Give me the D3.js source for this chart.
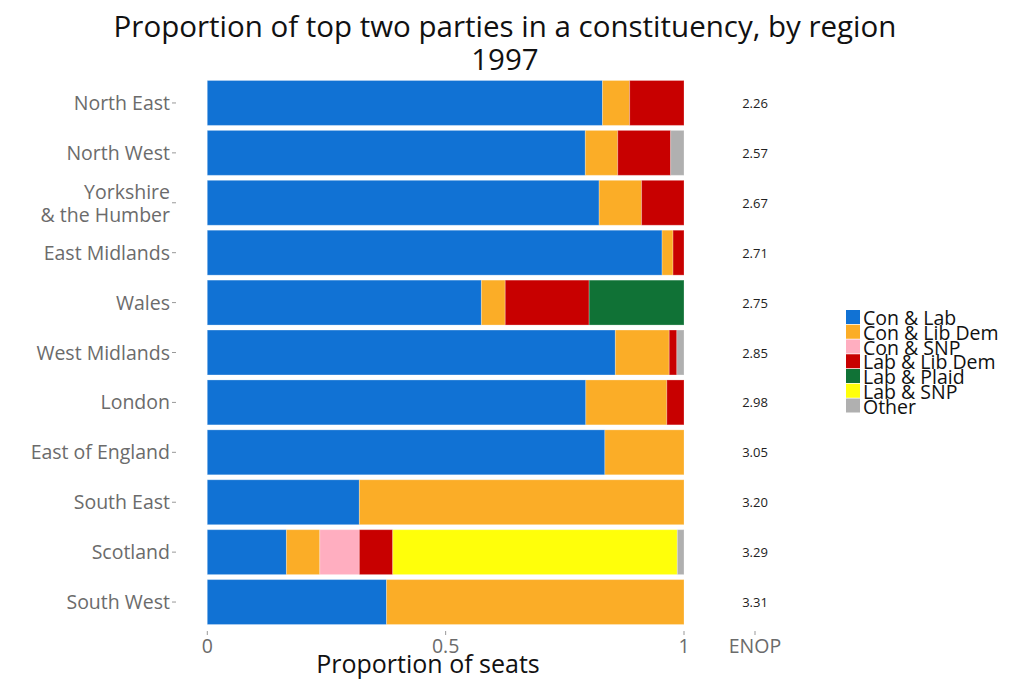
<!DOCTYPE html>
<html><head><meta charset="utf-8">
<script src="https://cdn.jsdelivr.net/npm/d3@7"></script>
<style>body{margin:0;background:#fff}svg{display:block}text{font-family:"Open Sans",sans-serif}</style>
</head><body>
<svg id="c" width="1024" height="683"></svg>
<script>
const regions = ["North East","North West","Yorkshire\n& the Humber","East Midlands","Wales","West Midlands","London","East of England","South East","Scotland","South West"];
const enop = ["2.26","2.57","2.67","2.71","2.75","2.85","2.98","3.05","3.20","3.29","3.31"];
const categories = ["Con & Lab","Con & Lib Dem","Con & SNP","Lab & Lib Dem","Lab & Plaid","Lab & SNP","Other"];
const conLab    = [0.829,0.793,0.822,0.954,0.575,0.856,0.794,0.834,0.319,0.166,0.376];
const conLibDem = [0.057,0.068,0.089,0.023,0.050,0.113,0.170,0.166,0.681,0.070,0.624];
const conSNP    = [0,0,0,0,0,0,0,0,0,0.083,0];
const labLibDem = [0.114,0.111,0.089,0.023,0.176,0.016,0.036,0,0,0.070,0];
const labPlaid  = [0,0,0,0,0.199,0,0,0,0,0,0];
const labSNP    = [0,0,0,0,0,0,0,0,0,0.597,0];
const other     = [0,0.028,0,0,0,0.015,0,0,0,0.014,0];
const colors = ["#1172d4","#fbad27","#ffaec0","#c80000","#107236","#ffff0a","#b0b0b0"];
const xTicks = [0,0.5,1];
const xTickLabels = ["0","0.5","1"];

const series = [conLab,conLibDem,conSNP,labLibDem,labPlaid,labSNP,other];
const rows = regions.map((r,i)=>{const o={region:r};categories.forEach((c,k)=>o[c]=series[k][i]);return o;});
const stacked = d3.stack().keys(categories)(rows);

const svg = d3.select("#c");
const x = d3.scaleLinear().domain([0,1]).range([207.3,684]);
const y = d3.scaleBand().domain(regions).range([78,627]).paddingInner(0.1).paddingOuter(0.05);
const color = d3.scaleOrdinal().domain(categories).range(colors);

// bars
svg.append("g").selectAll("g").data(stacked).join("g")
  .attr("fill",d=>color(d.key))
  .selectAll("rect").data(d=>d.filter(s=>s[1]-s[0]>0)).join("rect")
  .attr("x",d=>x(d[0])).attr("width",d=>x(d[1])-x(d[0]))
  .attr("y",d=>y(d.data.region)).attr("height",y.bandwidth())
  .attr("stroke","rgba(255,255,255,0.25)").attr("stroke-width",1);

// y axis labels
const yg = svg.append("g");
const lblSize = 19.5;
regions.forEach(r=>{
  const cy = y(r)+y.bandwidth()/2;
  const lines = r.split("\n");
  const t = yg.append("text").attr("x",170).attr("text-anchor","end").attr("fill","#6b6b6b").attr("font-size",lblSize);
  if(lines.length===1){
    t.attr("y",cy+7).text(r);
  } else {
    t.attr("y",cy-4).text(lines[0]);
    yg.append("text").attr("x",170).attr("y",cy+19).attr("text-anchor","end").attr("fill","#6b6b6b").attr("font-size",lblSize).text(lines[1]);
  }
  yg.append("line").attr("x1",172).attr("x2",176).attr("y1",cy).attr("y2",cy).attr("stroke","#999").attr("stroke-width",1);
});

// x axis
const xg = svg.append("g");
xTicks.forEach((v,i)=>{
  xg.append("line").attr("x1",x(v)).attr("x2",x(v)).attr("y1",631).attr("y2",635).attr("stroke","#999");
  xg.append("text").attr("x",x(v)).attr("y",653).attr("text-anchor","middle").attr("fill","#6b6b6b").attr("font-size",lblSize).text(xTickLabels[i]);
});
svg.append("line").attr("x1",755).attr("x2",755).attr("y1",631).attr("y2",635).attr("stroke","#999");
svg.append("text").attr("x",755).attr("y",653).attr("text-anchor","middle").attr("fill","#6b6b6b").attr("font-size",lblSize).text("ENOP");
svg.append("text").attr("x",428).attr("y",673).attr("text-anchor","middle").attr("fill","#111").attr("font-size",25).text("Proportion of seats");

// ENOP values
svg.append("g").selectAll("text").data(regions).join("text")
  .attr("x",755).attr("y",r=>y(r)+y.bandwidth()/2+5).attr("text-anchor","middle")
  .attr("fill","#222").attr("font-size",13).text((r,i)=>enop[i]);

// title
svg.append("text").attr("x",505).attr("y",37).attr("text-anchor","middle").attr("fill","#111").attr("font-size",29.5).text("Proportion of top two parties in a constituency, by region");
svg.append("text").attr("x",505).attr("y",70).attr("text-anchor","middle").attr("fill","#111").attr("font-size",29.5).text("1997");

// legend
const lg = svg.append("g").attr("transform","translate(846,310)");
categories.forEach((c,i)=>{
  lg.append("rect").attr("x",0).attr("y",i*14.75).attr("width",14).attr("height",14).attr("fill",colors[i]);
  lg.append("text").attr("x",17).attr("y",i*14.75+15).attr("fill","#111").attr("font-size",19.5).text(c);
});
</script>
</body></html>
